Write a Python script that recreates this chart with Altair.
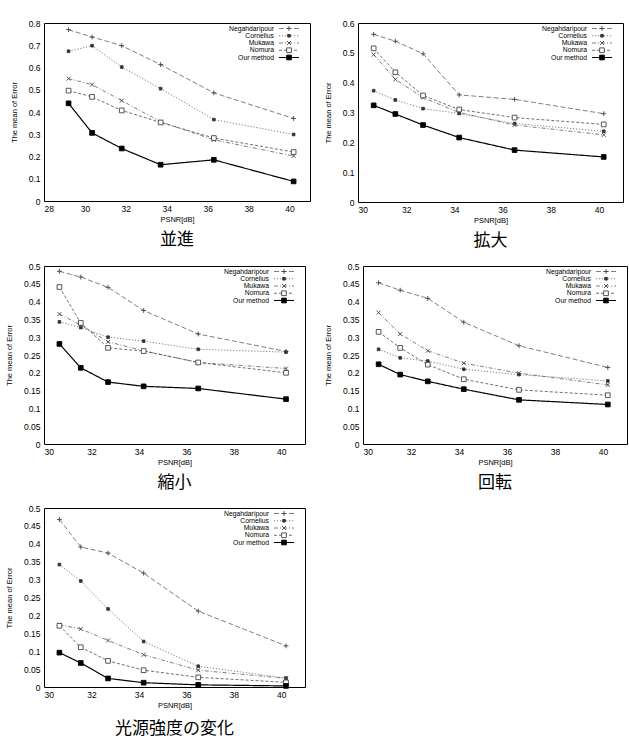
import altair as alt
import pandas as pd

# ---------------- data ----------------
series = ["Negahdaripour", "Cornelius", "Mukawa", "Nomura", "Our method"]

psnr_trans = [29.2, 30.35, 31.8, 33.7, 36.3, 40.2]
psnr_other = [30.65, 31.55, 32.7, 34.2, 36.5, 40.2]

# 並進
neg1 = [0.770, 0.737, 0.698, 0.613, 0.486, 0.371]
cor1 = [0.673, 0.698, 0.602, 0.505, 0.366, 0.299]
muk1 = [0.550, 0.523, 0.451, 0.356, 0.275, 0.202]
nom1 = [0.496, 0.468, 0.407, 0.353, 0.283, 0.220]
our1 = [0.439, 0.306, 0.236, 0.163, 0.185, 0.088]

# 拡大
neg2 = [0.562, 0.539, 0.497, 0.359, 0.344, 0.296]
cor2 = [0.373, 0.342, 0.313, 0.297, 0.263, 0.237]
muk2 = [0.494, 0.411, 0.350, 0.300, 0.258, 0.225]
nom2 = [0.515, 0.435, 0.357, 0.310, 0.283, 0.260]
our2 = [0.324, 0.295, 0.258, 0.216, 0.174, 0.151]

# 縮小
neg3 = [0.485, 0.469, 0.440, 0.375, 0.309, 0.260]
cor3 = [0.343, 0.327, 0.300, 0.289, 0.266, 0.258]
muk3 = [0.365, 0.334, 0.287, 0.262, 0.229, 0.212]
nom3 = [0.441, 0.340, 0.270, 0.261, 0.229, 0.200]
our3 = [0.281, 0.214, 0.174, 0.162, 0.156, 0.126]

# 回転
neg4 = [0.453, 0.432, 0.409, 0.342, 0.276, 0.215]
cor4 = [0.266, 0.242, 0.233, 0.210, 0.195, 0.177]
muk4 = [0.369, 0.309, 0.262, 0.227, 0.199, 0.166]
nom4 = [0.315, 0.270, 0.223, 0.182, 0.152, 0.137]
our4 = [0.224, 0.195, 0.176, 0.154, 0.124, 0.111]

# 光源強度の変化
neg5 = [0.468, 0.391, 0.374, 0.318, 0.212, 0.115]
cor5 = [0.342, 0.296, 0.218, 0.127, 0.058, 0.025]
muk5 = [0.174, 0.162, 0.130, 0.090, 0.047, 0.024]
nom5 = [0.171, 0.111, 0.073, 0.047, 0.027, 0.013]
our5 = [0.096, 0.067, 0.024, 0.012, 0.006, 0.003]

captions = ["並進", "拡大", "縮小", "回転", "光源強度の変化"]
x_ticks_trans = [28, 30, 32, 34, 36, 38, 40]
x_ticks_other = [30, 32, 34, 36, 38, 40]
y_ticks_08 = [0, 0.1, 0.2, 0.3, 0.4, 0.5, 0.6, 0.7, 0.8]
y_ticks_06 = [0, 0.1, 0.2, 0.3, 0.4, 0.5, 0.6]
y_ticks_05 = [0, 0.05, 0.1, 0.15, 0.2, 0.25, 0.3, 0.35, 0.4, 0.45, 0.5]

# ---------------- styles ----------------
LATIN = "Liberation Sans"
CJK = "Noto Sans CJK JP"
dash_range = [[5, 2.5], [1.2, 1.8], [4, 2, 1, 2], [3, 2], [1, 0]]
line_colors = ["#707070", "#707070", "#707070", "#606060", "#000000"]
line_widths = [0.9, 0.9, 0.9, 0.9, 1.2]
shape_range = ["M-1,0L1,0M0,-1L0,1", "square", "M-1,-1L1,1M-1,1L1,-1", "square", "square"]
fill_range = ["transparent", "#333333", "transparent", "white", "black"]
stroke_range = ["#444444", "#333333", "#444444", "#444444", "black"]
size_range = [24, 7, 16, 22, 22]

color_enc = alt.Color("series:N", scale=alt.Scale(domain=series, range=line_colors), legend=None)
dash_enc = alt.StrokeDash("series:N", scale=alt.Scale(domain=series, range=dash_range), legend=None)
sw_enc = alt.StrokeWidth("series:N", scale=alt.Scale(type="ordinal", domain=series, range=line_widths),
                         legend=None)
shape_enc = alt.Shape("series:N", scale=alt.Scale(domain=series, range=shape_range), legend=None)
fill_enc = alt.Fill("series:N", scale=alt.Scale(domain=series, range=fill_range), legend=None)
stroke_enc = alt.Stroke("series:N", scale=alt.Scale(domain=series, range=stroke_range), legend=None)
size_enc = alt.Size("series:N", scale=alt.Scale(type="ordinal", domain=series, range=size_range),
                    legend=None)


def panel(xs, ys_list, caption, xdom, xticks, ydom, yticks, w, h, cap_offset=9):
    rows = []
    for name, ys in zip(series, ys_list):
        for xv, yv in zip(xs, ys):
            rows.append({"series": name, "psnr": xv, "err": yv})
    df = pd.DataFrame(rows)
    X = alt.X("psnr:Q", scale=alt.Scale(domain=xdom, nice=False, zero=False),
              axis=alt.Axis(values=xticks, format="d", title="PSNR[dB]",
                            labelPadding=3, titlePadding=3))
    Y = alt.Y("err:Q", scale=alt.Scale(domain=ydom, nice=False),
              axis=alt.Axis(values=yticks, format="~g", title="The mean of Error",
                            labelPadding=4, titlePadding=10))
    base = alt.Chart(df)
    lines = base.mark_line().encode(x=X, y=Y, color=color_enc, strokeDash=dash_enc,
                                    strokeWidth=sw_enc, detail="series:N")
    pts = base.mark_point(filled=False, opacity=1, strokeWidth=0.9).encode(
        x=X, y=Y, shape=shape_enc, fill=fill_enc, stroke=stroke_enc, size=size_enc)

    leg_df = pd.DataFrame({"series": series})
    LY = alt.Y("series:N", scale=alt.Scale(type="point", domain=series, range=[5.5, 34.5], padding=0),
               axis=None)
    lb = alt.Chart(leg_df)
    ltext = lb.mark_text(align="right", baseline="middle", fontSize=6.8, font=LATIN,
                         color="black").encode(x=alt.value(w - 36), y=LY, text="series:N")
    lrule = lb.mark_rule().encode(x=alt.value(w - 31), x2=alt.value(w - 11), y=LY,
                                  color=color_enc, strokeDash=dash_enc, strokeWidth=sw_enc)
    lpt = lb.mark_point(filled=False, opacity=1, strokeWidth=0.9).encode(
        x=alt.value(w - 21), y=LY, shape=shape_enc, fill=fill_enc, stroke=stroke_enc, size=size_enc)

    main = alt.layer(lines, pts)
    leg = alt.layer(lrule, lpt, ltext)
    return alt.layer(main, leg).resolve_scale(y="independent").properties(
        width=w, height=h,
        title=alt.TitleParams(text=caption, orient="bottom", anchor="middle", frame="group",
                              fontSize=17, font=CJK, fontWeight="normal", offset=cap_offset,
                              color="black"))


p1 = panel(psnr_trans, [neg1, cor1, muk1, nom1, our1], captions[0], [28, 41], x_ticks_trans,
           [0, 0.8], y_ticks_08, 266, 178)
p2 = panel(psnr_other, [neg2, cor2, muk2, nom2, our2], captions[1], [30, 41], x_ticks_other,
           [0, 0.6], y_ticks_06, 265, 179)
p3 = panel(psnr_other, [neg3, cor3, muk3, nom3, our3], captions[2], [30, 41], x_ticks_other,
           [0, 0.5], y_ticks_05, 261, 178)
p4 = panel(psnr_other, [neg4, cor4, muk4, nom4, our4], captions[3], [30, 41], x_ticks_other,
           [0, 0.5], y_ticks_05, 264, 178)
p5 = panel(psnr_other, [neg5, cor5, muk5, nom5, our5], captions[4], [30, 41], x_ticks_other,
           [0, 0.5], y_ticks_05, 261, 179, cap_offset=12)

chart = alt.concat(p1, p2, p3, p4, p5, columns=2, spacing={"row": 11, "column": 12},
                   align="none").properties(
    padding={"top": 18, "left": 4, "right": 0, "bottom": 0},
    background="white",
).configure_view(stroke="black", strokeWidth=1).configure_axis(
    labelFont=LATIN, titleFont=LATIN, labelFontSize=8.5, titleFontSize=7.5,
    titleFontWeight="normal", labelColor="black", titleColor="black",
    grid=False, domain=False, ticks=False,
)

chart.save("out.html", embed_options={"renderer": "svg", "actions": False})
